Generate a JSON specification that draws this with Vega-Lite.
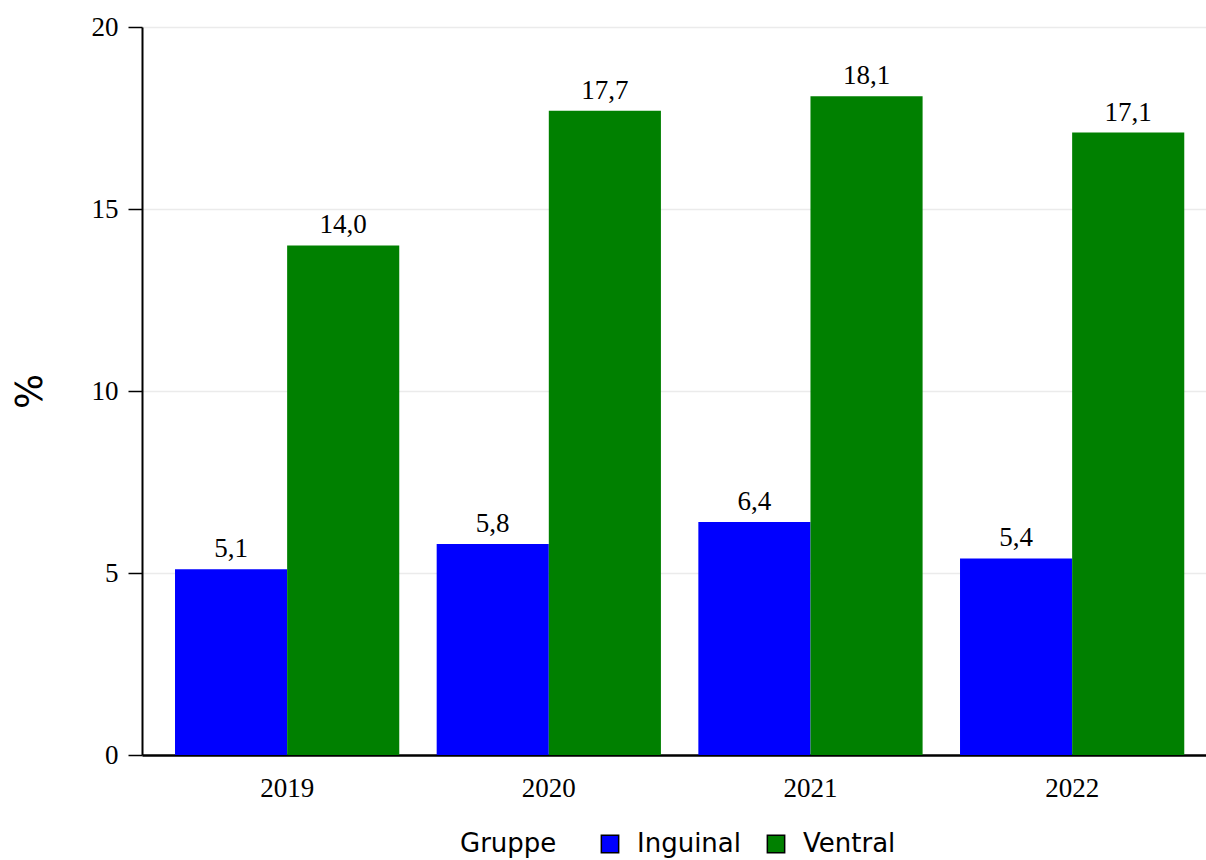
{
  "$schema": "https://vega.github.io/schema/vega-lite/v6.json",
  "autosize": "none",
  "width": 1064,
  "height": 728,
  "padding": {"left": 142, "top": 27, "right": 0, "bottom": 105},
  "background": "white",
  "config": {
    "view": {"stroke": null},
    "locale": {"number": {"decimal": ",", "thousands": ".", "grouping": [3], "currency": ["", " €"]}}
  },
  "data": {
    "values": [
      {"Jahr": "2019", "Gruppe": "Inguinal", "Wert": 5.1},
      {"Jahr": "2019", "Gruppe": "Ventral", "Wert": 14.0},
      {"Jahr": "2020", "Gruppe": "Inguinal", "Wert": 5.8},
      {"Jahr": "2020", "Gruppe": "Ventral", "Wert": 17.7},
      {"Jahr": "2021", "Gruppe": "Inguinal", "Wert": 6.4},
      {"Jahr": "2021", "Gruppe": "Ventral", "Wert": 18.1},
      {"Jahr": "2022", "Gruppe": "Inguinal", "Wert": 5.4},
      {"Jahr": "2022", "Gruppe": "Ventral", "Wert": 17.1}
    ]
  },
  "encoding": {
    "x": {
      "field": "Jahr", "type": "nominal",
      "scale": {"paddingInner": 0.143, "paddingOuter": 0.1046, "align": 0.603},
      "axis": {
        "title": null, "labelAngle": 0, "labelFont": "Liberation Serif", "labelFontSize": 27,
        "labelColor": "black", "ticks": false, "labelPadding": 20,
        "domainColor": "black", "domainWidth": 2.5, "grid": false
      }
    },
    "xOffset": {"field": "Gruppe", "type": "nominal", "scale": {"paddingInner": 0, "paddingOuter": 0}},
    "y": {
      "field": "Wert", "type": "quantitative",
      "scale": {"domain": [0, 20], "nice": false},
      "axis": {
        "title": "%", "titleFont": "DejaVu Sans", "titleFontSize": 37, "titleFontWeight": "normal",
        "titleColor": "black", "titlePadding": 42,
        "values": [0, 5, 10, 15, 20],
        "labelFont": "Liberation Serif", "labelFontSize": 27, "labelColor": "black",
        "labelPadding": 10, "tickSize": 14, "tickColor": "black", "tickWidth": 1.5,
        "domainColor": "black", "domainWidth": 2,
        "grid": true, "gridColor": "#ebebeb", "gridWidth": 1.5
      }
    }
  },
  "layer": [
    {
      "mark": {"type": "bar"},
      "encoding": {
        "color": {
          "field": "Gruppe", "type": "nominal",
          "scale": {"domain": ["Inguinal", "Ventral"], "range": ["#0000ff", "#008000"]},
          "legend": {
            "orient": "none", "legendX": 318, "legendY": 804,
            "direction": "horizontal", "title": "Gruppe",
            "titleOrient": "left", "titleFont": "DejaVu Sans", "titleFontSize": 26,
            "titleFontWeight": "normal", "titleColor": "black", "titlePadding": 40,
            "labelFont": "DejaVu Sans", "labelFontSize": 26, "labelColor": "black",
            "symbolType": "square", "symbolSize": 300, "symbolStrokeColor": "black",
            "symbolStrokeWidth": 1.5, "symbolOpacity": 1, "labelOffset": 14, "columnPadding": 22
          }
        }
      }
    },
    {
      "mark": {"type": "text", "baseline": "alphabetic", "dy": -12, "font": "Liberation Serif", "fontSize": 27, "color": "black"},
      "encoding": {
        "text": {"field": "Wert", "type": "quantitative", "format": ".1f"}
      }
    }
  ]
}
